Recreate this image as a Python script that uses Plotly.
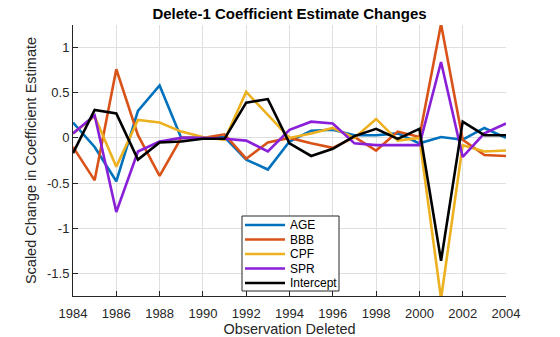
import plotly.graph_objects as go

years = list(range(1984, 2005))

age = [0.17, -0.10, -0.48, 0.30, 0.58, 0.00, 0.00, 0.01, -0.24, -0.35, -0.04, 0.08, 0.09, 0.03, 0.03, 0.05, -0.06, 0.01, -0.02, 0.11, 0.00]
bbb = [-0.10, -0.47, 0.76, 0.03, -0.42, 0.00, 0.00, 0.04, -0.23, -0.05, 0.00, -0.06, -0.11, 0.01, -0.14, 0.07, 0.01, 1.26, -0.02, -0.19, -0.20]
cpf = [0.05, 0.24, -0.32, 0.20, 0.17, 0.07, 0.01, -0.02, 0.51, 0.25, 0.00, 0.05, 0.11, 0.00, 0.21, -0.03, 0.00, -1.78, -0.08, -0.15, -0.14]
spr = [0.05, 0.25, -0.82, -0.15, -0.04, 0.00, 0.00, -0.01, -0.03, -0.15, 0.09, 0.18, 0.16, -0.06, -0.08, -0.08, -0.08, 0.84, -0.21, 0.05, 0.16]
intercept = [-0.17, 0.31, 0.27, -0.24, -0.05, -0.04, -0.01, -0.01, 0.39, 0.43, -0.06, -0.20, -0.12, 0.02, 0.10, -0.01, 0.10, -1.36, 0.18, 0.03, 0.03]

names = ["AGE", "BBB", "CPF", "SPR", "Intercept"]
series = [age, bbb, cpf, spr, intercept]
colors = ["#0072BD", "#D95319", "#EDB120", "#8A1FD8", "#000000"]

xtick_vals = list(range(1984, 2005, 2))
ytick_vals = [-1.5, -1, -0.5, 0, 0.5, 1]
ytick_text = ["-1.5", "-1", "-0.5", "0", "0.5", "1"]

W, H = 560, 337
ML, MR, MT, MB = 73, 54, 25, 41
PW, PH = W - ML - MR, H - MT - MB

fig = go.Figure()
for n, s, c in zip(names, series, colors):
    fig.add_trace(go.Scatter(x=years, y=s, name=n, mode="lines",
                             line=dict(color=c, width=2.6), showlegend=False))

# Compact boxed legend (MATLAB style), placed in paper coordinates
def px_x(p):
    return (p - ML) / PW

def px_y(p):
    return (MT + PH - p) / PH

box_l, box_r, box_t, box_b = 242, 339, 216, 291
row0, row_step = 225, 14.5
line_l, line_r, text_l = 245, 285, 288
shapes = [dict(type="rect", xref="paper", yref="paper",
               x0=px_x(box_l), x1=px_x(box_r), y0=px_y(box_b), y1=px_y(box_t),
               line=dict(color="#262626", width=1), fillcolor="white", layer="above")]
annotations = []
for i, (n, c) in enumerate(zip(names, colors)):
    yy = px_y(row0 + i * row_step)
    shapes.append(dict(type="line", xref="paper", yref="paper",
                       x0=px_x(line_l), x1=px_x(line_r), y0=yy, y1=yy,
                       line=dict(color=c, width=2.6), layer="above"))
    annotations.append(dict(text=n, xref="paper", yref="paper", x=px_x(text_l), y=yy,
                            xanchor="left", yanchor="middle", showarrow=False,
                            font=dict(size=12, color="#000000")))

font_family = "Liberation Sans, Arial, Helvetica, sans-serif"
fig.update_layout(
    width=W, height=H,
    margin=dict(l=ML, r=MR, t=MT, b=MB),
    paper_bgcolor="white", plot_bgcolor="white",
    font=dict(family=font_family, color="#262626", size=13),
    title=dict(text="<b>Delete-1 Coefficient Estimate Changes</b>",
               x=(ML + PW / 2) / W, xanchor="center",
               y=1 - 13.5 / H, yanchor="middle",
               font=dict(size=15, color="#000000")),
    shapes=shapes, annotations=annotations,
    xaxis=dict(range=[1984, 2004], tickvals=xtick_vals, automargin=False,
               showgrid=True, gridcolor="#DFDFDF", gridwidth=1,
               zeroline=False, showline=True, linecolor="#262626", linewidth=1,
               ticks="inside", ticklen=5, tickcolor="#262626",
               ticklabelstandoff=5,
               title=dict(text="Observation Deleted", font=dict(size=14.5), standoff=5),
               tickfont=dict(size=13)),
    yaxis=dict(range=[-1.75, 1.25], tickvals=ytick_vals, ticktext=ytick_text, automargin=False,
               showgrid=True, gridcolor="#DFDFDF", gridwidth=1,
               zeroline=False, showline=True, linecolor="#262626", linewidth=1,
               ticks="inside", ticklen=5, tickcolor="#262626",
               title=dict(text="Scaled Change in Coefficient Estimate", font=dict(size=14.5), standoff=6),
               tickfont=dict(size=13)),
)

fig.write_html("out.html")
